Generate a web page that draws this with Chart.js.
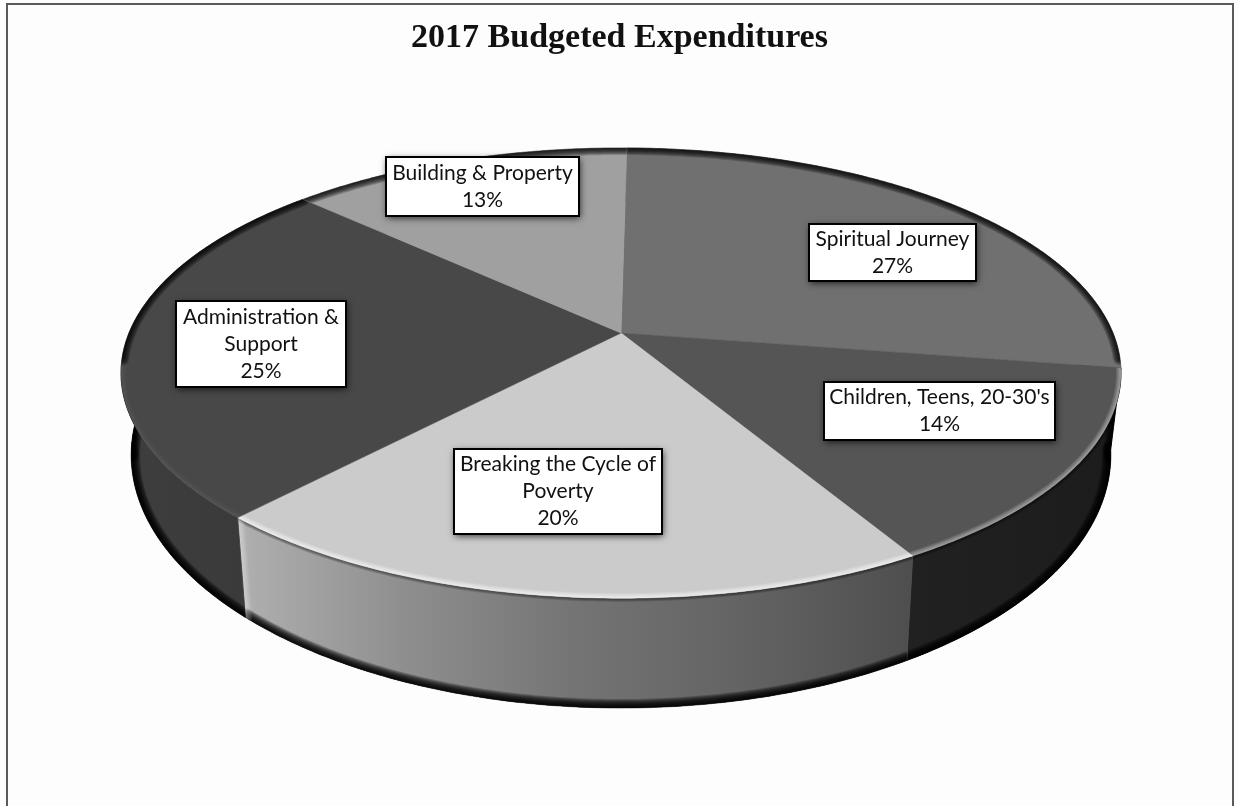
<!DOCTYPE html>
<html>
<head>
<meta charset="utf-8">
<title>2017 Budgeted Expenditures</title>
<script src="https://cdn.jsdelivr.net/npm/chart.js@4/dist/chart.umd.js"></script>
<style>
  html, body { margin: 0; padding: 0; background: #fdfdfd; }
  canvas { display: block; }
</style>
</head>
<body>
<canvas id="graficoPizza" width="1239" height="806"></canvas>
<script>
const categorias = ['Spiritual Journey', 'Children, Teens, 20-30\'s', 'Breaking the Cycle of Poverty', 'Administration & Support', 'Building & Property'];
const valores = [27, 14, 20, 25, 13];
const linhasRotulo = [['Spiritual Journey'], ['Children, Teens, 20-30\'s'], ['Breaking the Cycle of', 'Poverty'], ['Administration &', 'Support'], ['Building & Property']];

const coresTopo = ['#707070', '#555555', '#cbcbcb', '#484848', '#a0a0a0'];
const coresLateral = [
  ['#555555', '#555555'],
  ['#212121', '#1c1c1c'],
  ['#b0b0b0', '#8e8e8e', '#747474', '#636363', '#4e4e4e'],
  ['#3e3e3e', '#383838'],
  ['#777777', '#777777']
];
// brilho da borda da frente em cada fatia
const brilhoFrente = [0, 0.1, 0.16, 0.015, 0];
// caixas dos rotulos: x, y, largura, altura
const caixasRotulo = [
  [809, 224, 167, 57],
  [824, 382, 231, 58],
  [454, 449, 208, 85],
  [176, 301, 170, 86],
  [386, 157, 193, 59]
];

// Projecao em perspectiva do disco: plano de cima e plano de baixo
const planoTopo = { x: 621, y: 333, a: 218, b: 492, k: 0.178 };
const planoBase = { x: 621, y: 410, a: 245, b: 482, k: 0.178 };
const anguloExtremo = Math.asin(planoTopo.k);

function projeta(plano, angulo) {
  const u = Math.cos(angulo);
  const v = -Math.sin(angulo);
  const d = 1 + plano.k * v;
  return { x: plano.x + plano.b * u / d, y: plano.y - plano.a * v / d };
}

function pontosArco(plano, inicio, fim) {
  const pontos = [];
  const passos = Math.max(8, Math.ceil((fim - inicio) * 90));
  for (let i = 0; i <= passos; i++) {
    pontos.push(projeta(plano, inicio + (fim - inicio) * i / passos));
  }
  return pontos;
}

function tracaPontos(ctx, pontos) {
  pontos.forEach((p, i) => (i ? ctx.lineTo(p.x, p.y) : ctx.moveTo(p.x, p.y)));
}

// traco esfumado: varias passadas, da mais larga para a mais fina
function tracoSuave(ctx, pontos, cor, largura, alfa) {
  ctx.save();
  ctx.strokeStyle = cor;
  ctx.lineJoin = 'round';
  ctx.lineCap = 'round';
  for (let w = largura; w > 0; w -= 2) {
    ctx.globalAlpha = alfa;
    ctx.lineWidth = w;
    ctx.beginPath();
    tracaPontos(ctx, pontos);
    ctx.stroke();
  }
  ctx.restore();
}

// Fatia desenhada no plano de cima, com as bordas em relevo
class ArcoPerspectiva extends Chart.ArcElement {
  static id = 'arcoPerspectiva';
  static defaults = Chart.ArcElement.defaults;

  draw(ctx) {
    const { startAngle, endAngle } = this.getProps(['startAngle', 'endAngle']);
    const arco = pontosArco(planoTopo, startAngle, endAngle);
    const indice = this.$context.dataIndex;

    ctx.save();
    ctx.beginPath();
    ctx.moveTo(planoTopo.x, planoTopo.y);
    arco.forEach((p) => ctx.lineTo(p.x, p.y));
    ctx.closePath();
    ctx.fillStyle = this.options.backgroundColor;
    ctx.strokeStyle = this.options.backgroundColor;
    ctx.lineWidth = 0.6;
    ctx.fill();
    ctx.stroke();
    ctx.clip();

    // a parte de tras escurece, a da frente recebe brilho
    const atras = [];
    const frente = [];
    arco.forEach((p, i) => {
      const a = startAngle + (endAngle - startAngle) * i / (arco.length - 1);
      const ladoAtras = Math.sin(a) < 0.12;
      (ladoAtras ? atras : frente).push(p);
    });
    if (atras.length > 1) tracoSuave(ctx, atras, '#000', 14, 0.2);
    if (frente.length > 1 && brilhoFrente[indice] > 0) {
      tracoSuave(ctx, frente, '#fff', 10, brilhoFrente[indice]);
    }
    ctx.restore();
  }
}

class ControladorPizza3d extends Chart.PieController {
  static id = 'pizza3d';
  static defaults = { dataElementType: 'arcoPerspectiva' };
}

Chart.register(ArcoPerspectiva, ControladorPizza3d);

// Moldura, lateral do disco e rotulos
const pluginPizza = {
  id: 'pluginPizza',
  beforeDraw(chart) {
    const ctx = chart.ctx;
    ctx.save();
    ctx.strokeStyle = '#5a5a5a';
    ctx.lineWidth = 2;
    ctx.strokeRect(7, 4, 1226, 900);
    ctx.restore();
  },
  beforeDatasetsDraw(chart) {
    const ctx = chart.ctx;
    const arcos = chart.getDatasetMeta(0).data;
    arcos.forEach((arco, i) => {
      const { startAngle, endAngle } = arco.getProps(['startAngle', 'endAngle']);
      const cima = pontosArco(planoTopo, startAngle, endAngle);
      const baixo = pontosArco(planoBase, startAngle, endAngle);
      const xs = baixo.concat(cima).map((p) => p.x);
      const grad = ctx.createLinearGradient(Math.min(...xs), 0, Math.max(...xs), 0);
      coresLateral[i].forEach((c, j, lista) => grad.addColorStop(j / (lista.length - 1), c));

      ctx.save();
      ctx.beginPath();
      tracaPontos(ctx, cima);
      baixo.slice().reverse().forEach((p) => ctx.lineTo(p.x, p.y));
      ctx.closePath();
      ctx.fillStyle = grad;
      ctx.strokeStyle = grad;
      ctx.lineWidth = 0.8;
      ctx.fill();
      ctx.stroke();
      ctx.clip();
      // borda inferior escura
      tracoSuave(ctx, baixo, '#000', 18, 0.24);
      // sombra logo abaixo do plano de cima
      if (i === 1 || i === 2) tracoSuave(ctx, cima, '#000', 7, 0.16);
      // aresta clara entre as fatias e contorno lateral
      if (i === 2) {
        tracoSuave(ctx, [cima[cima.length - 1], baixo[baixo.length - 1]], '#fff', 14, 0.07);
      }
      if (i === 1) {
        tracoSuave(ctx, [projeta(planoTopo, anguloExtremo), projeta(planoBase, anguloExtremo)], '#000', 16, 0.24);
      }
      if (i === 3) {
        tracoSuave(ctx, [projeta(planoTopo, Math.PI - anguloExtremo), projeta(planoBase, Math.PI - anguloExtremo)], '#000', 16, 0.24);
      }
      ctx.restore();
    });
  },
  afterDatasetsDraw(chart) {
    const ctx = chart.ctx;
    caixasRotulo.forEach((caixa, i) => {
      const [x, y, w, h] = caixa;
      ctx.save();
      ctx.shadowColor = 'rgba(0,0,0,0.75)';
      ctx.shadowBlur = 7;
      ctx.shadowOffsetX = 1;
      ctx.shadowOffsetY = 2;
      ctx.fillStyle = '#fff';
      ctx.fillRect(x, y, w, h);
      ctx.restore();

      ctx.save();
      ctx.strokeStyle = '#000';
      ctx.lineWidth = 2;
      ctx.strokeRect(x, y, w, h);
      ctx.fillStyle = '#111';
      ctx.font = '21px Lato';
      ctx.textAlign = 'center';
      ctx.textBaseline = 'middle';
      const linhas = linhasRotulo[i].concat(valores[i] + '%');
      linhas.forEach((texto, n) => {
        ctx.fillText(texto, x + w / 2, y + h / 2 + (n - (linhas.length - 1) / 2) * 27);
      });
      ctx.restore();
    });
  }
};

new Chart(document.getElementById('graficoPizza'), {
  type: 'pizza3d',
  data: {
    labels: categorias,
    datasets: [{ data: valores, backgroundColor: coresTopo, borderWidth: 0 }]
  },
  options: {
    responsive: false,
    animation: false,
    rotation: 0.8,
    plugins: {
      legend: { display: false },
      tooltip: { enabled: false },
      title: {
        display: true,
        text: '2017 Budgeted Expenditures',
        color: '#111',
        font: { family: '"Liberation Serif"', size: 34, weight: 'bold' },
        padding: { top: 18, bottom: 20 }
      }
    }
  },
  plugins: [pluginPizza]
});
</script>
</body>
</html>
